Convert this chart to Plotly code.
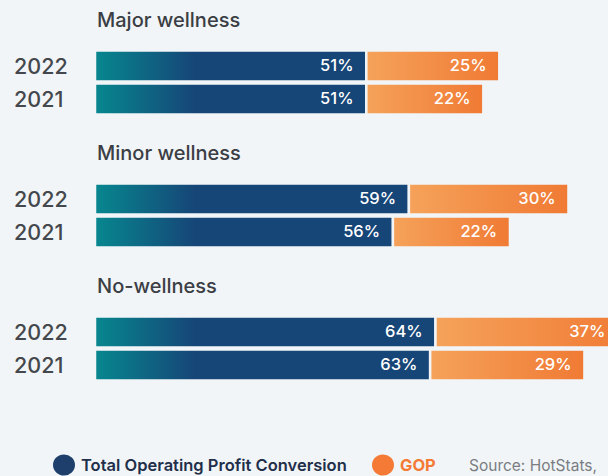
import plotly.graph_objects as go

# ---- data ----
groups = ["Major wellness", "Minor wellness", "No-wellness"]
years = ["2022", "2021"]
topc = [[51, 51], [59, 56], [64, 63]]   # Total Operating Profit Conversion (%)
gop = [[25, 22], [30, 22], [37, 29]]    # GOP (%)
legend_names = ["Total Operating Profit Conversion", "GOP"]
source_text = "Source: HotStats,"

# ---- style / layout ----
W, H = 608, 476
S = 5.32          # px per percentage point
X0 = 95           # px where bars start
BG = "#f1f5f7"
NAVY = "#164577"
TEAL = "#07878f"
OR_L = "#f5a25a"
OR_R = "#f07a34"
LEG_NAVY = "#1e3f6c"
LEG_OR = "#f47a35"
FONT = "Inter"
HALF = 15.5
XMAX = (W - X0) / S


def ypos(g, j):
    return 66 + g * 133 + j * 33


fig = go.Figure()

# Total Operating Profit Conversion bars (one trace, gradient from the axis origin)
xs, ys = [], []
for g in range(len(groups)):
    for j in range(len(years)):
        yc = ypos(g, j)
        v = topc[g][j]
        xs += [0, v, v, 0, 0, None]
        ys += [yc - HALF, yc - HALF, yc + HALF, yc + HALF, yc - HALF, None]
fig.add_trace(go.Scatter(
    x=xs, y=ys, fill="toself", mode="lines",
    line=dict(width=2.5, color=BG),
    fillgradient=dict(type="horizontal", colorscale=[[0, TEAL], [1, NAVY]], start=0, stop=19),
    hoverinfo="skip", showlegend=False))

# GOP bars, stacked after TOPC
for g in range(len(groups)):
    for j in range(len(years)):
        yc = ypos(g, j)
        a = topc[g][j]
        b = a + gop[g][j]
        fig.add_trace(go.Scatter(
            x=[a, b, b, a, a],
            y=[yc - HALF, yc - HALF, yc + HALF, yc + HALF, yc - HALF],
            fill="toself", mode="lines",
            line=dict(width=2.5, color=BG),
            fillgradient=dict(type="horizontal", colorscale=[[0, OR_L], [1, OR_R]], start=a, stop=b),
            hoverinfo="skip", showlegend=False))

# value labels (kept inside the visible area)
PAD = 2.4
lx, ly, lt = [], [], []
for g in range(len(groups)):
    for j in range(len(years)):
        yc = ypos(g, j)
        a = topc[g][j]
        b = a + gop[g][j]
        lx += [a - PAD, min(b - PAD, XMAX - 0.5)]
        ly += [yc + 1, yc + 1]
        lt += [f"{topc[g][j]}%", f"{gop[g][j]}%"]
fig.add_trace(go.Scatter(
    x=lx, y=ly, text=lt, mode="text", textposition="middle left",
    textfont=dict(family=FONT, size=16.5, color="white", weight=500),
    hoverinfo="skip", showlegend=False, cliponaxis=False))

annotations = []
for g, name in enumerate(groups):
    annotations.append(dict(
        x=0, y=ypos(g, 0) - 46, xref="x", yref="y", text=name, showarrow=False,
        xanchor="left", yanchor="middle",
        font=dict(family=FONT, size=20, color="#3b3e44", weight=500)))
    for j, yr in enumerate(years):
        annotations.append(dict(
            x=12 / W, y=ypos(g, j), xref="paper", yref="y", text=yr, showarrow=False,
            xanchor="left", yanchor="middle",
            font=dict(family=FONT, size=21.5, color="#44474c", weight=500)))

# legend (text + circle keys)
LY = 465
annotations += [
    dict(x=79 / W, y=LY, xref="paper", yref="y", text=legend_names[0], showarrow=False,
         xanchor="left", yanchor="middle", font=dict(family=FONT, size=16.5, color="#1f2f4a", weight=600)),
    dict(x=398 / W, y=LY, xref="paper", yref="y", text=legend_names[1], showarrow=False,
         xanchor="left", yanchor="middle", font=dict(family=FONT, size=16.5, color=LEG_OR, weight=700)),
    dict(x=467 / W, y=LY, xref="paper", yref="y", text=source_text, showarrow=False,
         xanchor="left", yanchor="middle", font=dict(family=FONT, size=15.5, color="#7a7d82", weight=400)),
]
shapes = [
    dict(type="circle", xref="paper", yref="y", x0=53 / W, x1=75 / W, y0=LY - 10.5, y1=LY + 10.5,
         fillcolor=LEG_NAVY, line=dict(width=0)),
    dict(type="circle", xref="paper", yref="y", x0=372 / W, x1=394 / W, y0=LY - 10.5, y1=LY + 10.5,
         fillcolor=LEG_OR, line=dict(width=0)),
]

fig.update_layout(
    width=W, height=H,
    margin=dict(l=0, r=0, t=0, b=0),
    paper_bgcolor=BG, plot_bgcolor=BG,
    xaxis=dict(range=[-X0 / S, XMAX], visible=False, fixedrange=True),
    yaxis=dict(range=[H, 0], visible=False, fixedrange=True),
    annotations=annotations,
    shapes=shapes,
    showlegend=False,
)

fig.write_html("out.html")
